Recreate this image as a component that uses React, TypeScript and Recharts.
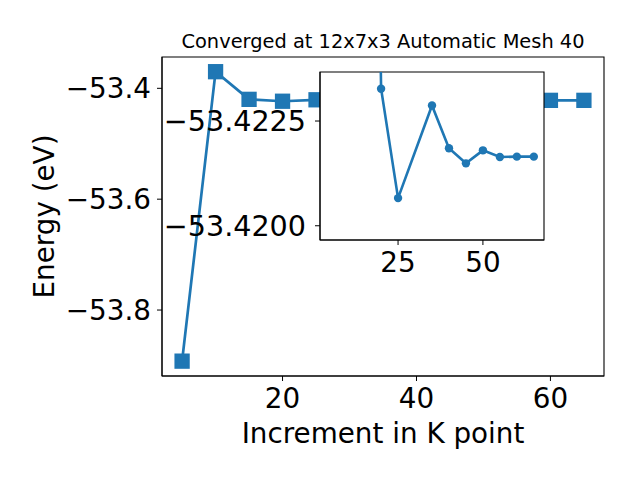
import { LineChart, Line, XAxis, YAxis, ReferenceArea } from 'recharts';

const kPoints = [5, 10, 15, 20, 25, 35, 40, 45, 50, 55, 60, 65];
const energies = [
  -53.8922, -53.37, -53.4199, -53.4233, -53.4207, -53.4229, -53.4219, -53.4215, -53.4218, -53.4216,
  -53.4217, -53.4217,
];

const insetK = [15, 20, 25, 35, 40, 45, 50, 55, 60, 65];
const insetEnergies = [
  -53.45, -53.42327, -53.42066, -53.42287, -53.42185, -53.42149, -53.4218, -53.42164, -53.42165,
  -53.42165,
];

const mainXTicks = [20, 40, 60];
const mainYTicks = [-53.8, -53.6, -53.4];
const insetXTicks = [25, 50];
const insetYTicks = [-53.4225, -53.42];

const xDomain: [number, number] = [2, 68];
const mainYDomain: [number, number] = [-53.919, -53.3435];
const insetYDomain: [number, number] = [-53.42367, -53.41966];

const title = 'Converged at 12x7x3 Automatic Mesh 40';
const xLabel = 'Increment in K point';
const yLabel = 'Energy (eV)';

const BLUE = '#1f77b4';
const TICK_FONT = 27.8;

const mainData = kPoints.map((k, i) => ({ k, e: energies[i] }));
const insetData = insetK.map((k, i) => ({ k, e: insetEnergies[i] }));

const fmt = (digits: number) => (v: number) => v.toFixed(digits).replace('-', '\u2212');

const tickStyle = { fill: 'black', fontSize: TICK_FONT };
const insetTickStyle = { fill: 'black', fontSize: 28.6 };

function SquareDot(props: any) {
  const { cx, cy, index } = props;
  if (cx == null || cy == null) return <g key={index} />;
  const s = 15.3;
  return <rect key={index} x={cx - s / 2} y={cy - s / 2} width={s} height={s} fill={BLUE} />;
}

export default function App() {
  return (
    <div
      style={{
        position: 'absolute',
        left: 0,
        top: 0,
        width: 640,
        height: 480,
        background: 'white',
        fontFamily: 'DejaVu Sans',
      }}
    >
      <div style={{ position: 'absolute', left: 0, top: 0 }}>
        <LineChart width={640} height={480} data={mainData} margin={{ top: 57, right: 36, bottom: 0, left: 0 }}>
          <XAxis
            dataKey="k"
            type="number"
            domain={xDomain}
            ticks={mainXTicks}
            height={104}
            tickSize={5}
            tickMargin={7}
            stroke="black"
            tick={tickStyle}
          />
          <YAxis
            type="number"
            domain={mainYDomain}
            ticks={mainYTicks}
            width={162}
            tickSize={5}
            tickMargin={6}
            stroke="black"
            tick={tickStyle}
            tickFormatter={fmt(1)}
          />
          <Line
            dataKey="e"
            stroke={BLUE}
            strokeWidth={2.7}
            dot={SquareDot}
            activeDot={false}
            isAnimationActive={false}
          />
          <ReferenceArea
            x1={xDomain[0]}
            x2={xDomain[1]}
            y1={mainYDomain[0]}
            y2={mainYDomain[1]}
            fill="none"
            stroke="black"
            strokeWidth={1.1}
          />
          <text x={383} y={48.4} textAnchor="middle" fontSize={19.4} fill="black">
            {title}
          </text>
          <text x={383} y={443.3} textAnchor="middle" fontSize={TICK_FONT} fill="black">
            {xLabel}
          </text>
          <text
            x={53.5}
            y={216.5}
            textAnchor="middle"
            fontSize={TICK_FONT}
            fill="black"
            transform="rotate(-90, 53.5, 216.5)"
          >
            {yLabel}
          </text>
        </LineChart>
      </div>
      <div style={{ position: 'absolute', left: 0, top: 0 }}>
        <LineChart width={640} height={480} data={insetData} margin={{ top: 72, right: 96, bottom: 140, left: 0 }}>
          <ReferenceArea
            x1={xDomain[0]}
            x2={xDomain[1]}
            y1={insetYDomain[0]}
            y2={insetYDomain[1]}
            fill="white"
            fillOpacity={1}
            stroke="black"
            strokeWidth={1.1}
          />
          <XAxis
            dataKey="k"
            type="number"
            domain={xDomain}
            ticks={insetXTicks}
            height={100}
            tickSize={5}
            tickMargin={7}
            stroke="black"
            tick={tickStyle}
            allowDataOverflow
          />
          <YAxis
            type="number"
            domain={insetYDomain}
            ticks={insetYTicks}
            reversed
            width={320}
            tickSize={5}
            tickMargin={9}
            stroke="black"
            tick={insetTickStyle}
            tickFormatter={fmt(4)}
            allowDataOverflow
          />
          <Line
            dataKey="e"
            stroke={BLUE}
            strokeWidth={2.6}
            dot={{ r: 4.2, fill: BLUE, stroke: BLUE, strokeWidth: 0 }}
            activeDot={false}
            isAnimationActive={false}
          />
        </LineChart>
      </div>
    </div>
  );
}
